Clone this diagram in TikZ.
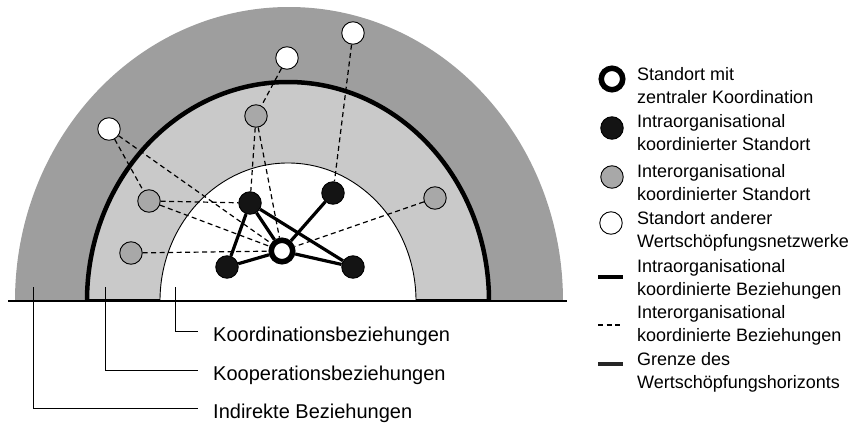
\documentclass[tikz,border=0pt]{standalone}
\usepackage{fontspec}
\setsansfont{Liberation Sans}
\usetikzlibrary{positioning}
\definecolor{cOuter}{gray}{0.62}
\definecolor{cMiddle}{gray}{0.79}
\definecolor{cInter}{gray}{0.66}
\definecolor{cIntra}{gray}{0.08}
\tikzset{
  font=\sffamily,
  site/.style={circle, draw=black, line width=0.9pt, minimum size=22.5pt, inner sep=0pt},
  intra/.style={site, fill=cIntra},
  inter/.style={site, fill=cInter},
  other/.style={site, fill=white},
  hub/.style={circle, draw=black, fill=white, line width=5.5pt, minimum size=21.5pt, inner sep=0pt},
  tie/.style={line width=3.2pt},
  link/.style={line width=1.2pt, dash pattern=on 5pt off 3.5pt},
  horizon/.style={line width=4.5pt},
  lead/.style={line width=1pt},
  lab/.style={anchor=base west, inner sep=0pt, font=\sffamily\fontsize{20}{24}\selectfont},
  legtext/.style={anchor=base west, inner sep=0pt, align=left, font=\sffamily\fontsize{18}{23}\selectfont},
}

\begin{document}
\begin{tikzpicture}[x=1pt, y=-1pt]
\useasboundingbox (0,0) rectangle (855,423);

% ------------------------------------------------------------------ bands
\fill[cOuter]  (15,301)  arc[start angle=180, end angle=360, x radius=274, y radius=294] -- cycle;
\fill[cMiddle] (87,301)  arc[start angle=180, end angle=360, x radius=201, y radius=219] -- cycle;
\fill[white]   (160,301) arc[start angle=180, end angle=360, x radius=128, y radius=138] -- cycle;
\draw[line width=0.9pt] (160,301) arc[start angle=180, end angle=360, x radius=128, y radius=138];
\draw[horizon] (87,301) arc[start angle=180, end angle=360, x radius=201, y radius=219];
\draw[line width=1.6pt] (8,301) -- (567,301);
\draw[line width=3pt] (87,300) -- (160,300) (416,300) -- (489,300);

% ------------------------------------------------------------------ sites
\node[hub]   (hub)  at (282,251) {};
\node[intra] (ia1)  at (250,203) {};
\node[intra] (ia2)  at (333,193) {};
\node[intra] (ia3)  at (227,267) {};
\node[intra] (ia4)  at (353,267) {};
\node[inter] (ie1)  at (149,201) {};
\node[inter] (ie2)  at (131,253) {};
\node[inter] (ie3)  at (256,116) {};
\node[inter] (ie4)  at (435,198) {};
\node[other] (ext1) at (109,129) {};
\node[other] (ext2) at (287,58)  {};
\node[other] (ext3) at (353,33)  {};

% intraorganisational ties
\draw[tie] (hub) -- (ia1);
\draw[tie] (hub) -- (ia2);
\draw[tie] (hub) -- (ia3);
\draw[tie] (hub) -- (ia4);
\draw[tie] (ia1) -- (ia3);
\draw[tie] (ia1) -- (ia4);

% interorganisational links
\draw[link] (ext1) -- (ie1);
\draw[link] (ext1) -- (hub);
\draw[link] (ie1) -- (ia1);
\draw[link] (ie1) -- (hub);
\draw[link] (ie2) -- (hub);
\draw[link] (ie3) -- (ia1);
\draw[link] (ie3) -- (hub);
\draw[link] (ext2) -- (ie3);
\draw[link] (ext3) -- (ia2);
\draw[link] (ie4) -- (hub);

% ------------------------------------------------------------------ band labels
\node[lab] (koord) at (213,341.5) {Koordinationsbeziehungen};
\node[lab] (koop)  at (213,380.5) {Kooperationsbeziehungen};
\node[lab] (indir) at (213,418)   {Indirekte Beziehungen};
\coordinate (in1) at (175,287);
\coordinate (in2) at (105,287);
\coordinate (in3) at (33,287);
\draw[lead] (in1) |- ([xshift=-15pt,yshift=10pt]koord.base west);
\draw[lead] (in2) |- ([xshift=-15pt,yshift=10pt]koop.base west);
\draw[lead] (in3) |- ([xshift=-15pt,yshift=10pt]indir.base west);

% ------------------------------------------------------------------ legend
\node[hub]   (lhub) at (612,79)  {};
\node[intra] (lia)  at (612,128) {};
\node[inter] (lie)  at (612,177) {};
\node[other] (lext) at (611,223) {};
\coordinate (ltie)  at (598,277);
\coordinate (llink) at (598,325);
\coordinate (lhor)  at (598,364);
\draw[tie]  (ltie)  -- ++(25,0);
\draw[link] (llink) -- ++(25,0);
\draw[line width=4pt, draw=black!85] (lhor) -- ++(25,0);

% base anchor sits on the second line
\node[legtext] (t1) at (637,103) {Standort mit\\zentraler Koordination};
\node[legtext] (t2) at (637,150) {Intraorganisational\\koordinierter Standort};
\node[legtext] (t3) at (637,200) {Interorganisational\\koordinierter Standort};
\node[legtext] (t4) at (637,247) {Standort anderer\\Wertschöpfungsnetzwerke};
\node[legtext] (t5) at (637,295) {Intraorganisational\\koordinierte Beziehungen};
\node[legtext] (t6) at (637,341) {Interorganisational\\koordinierte Beziehungen};
\node[legtext] (t7) at (637,388) {Grenze des\\Wertschöpfungshorizonts};

\end{tikzpicture}
\end{document}
